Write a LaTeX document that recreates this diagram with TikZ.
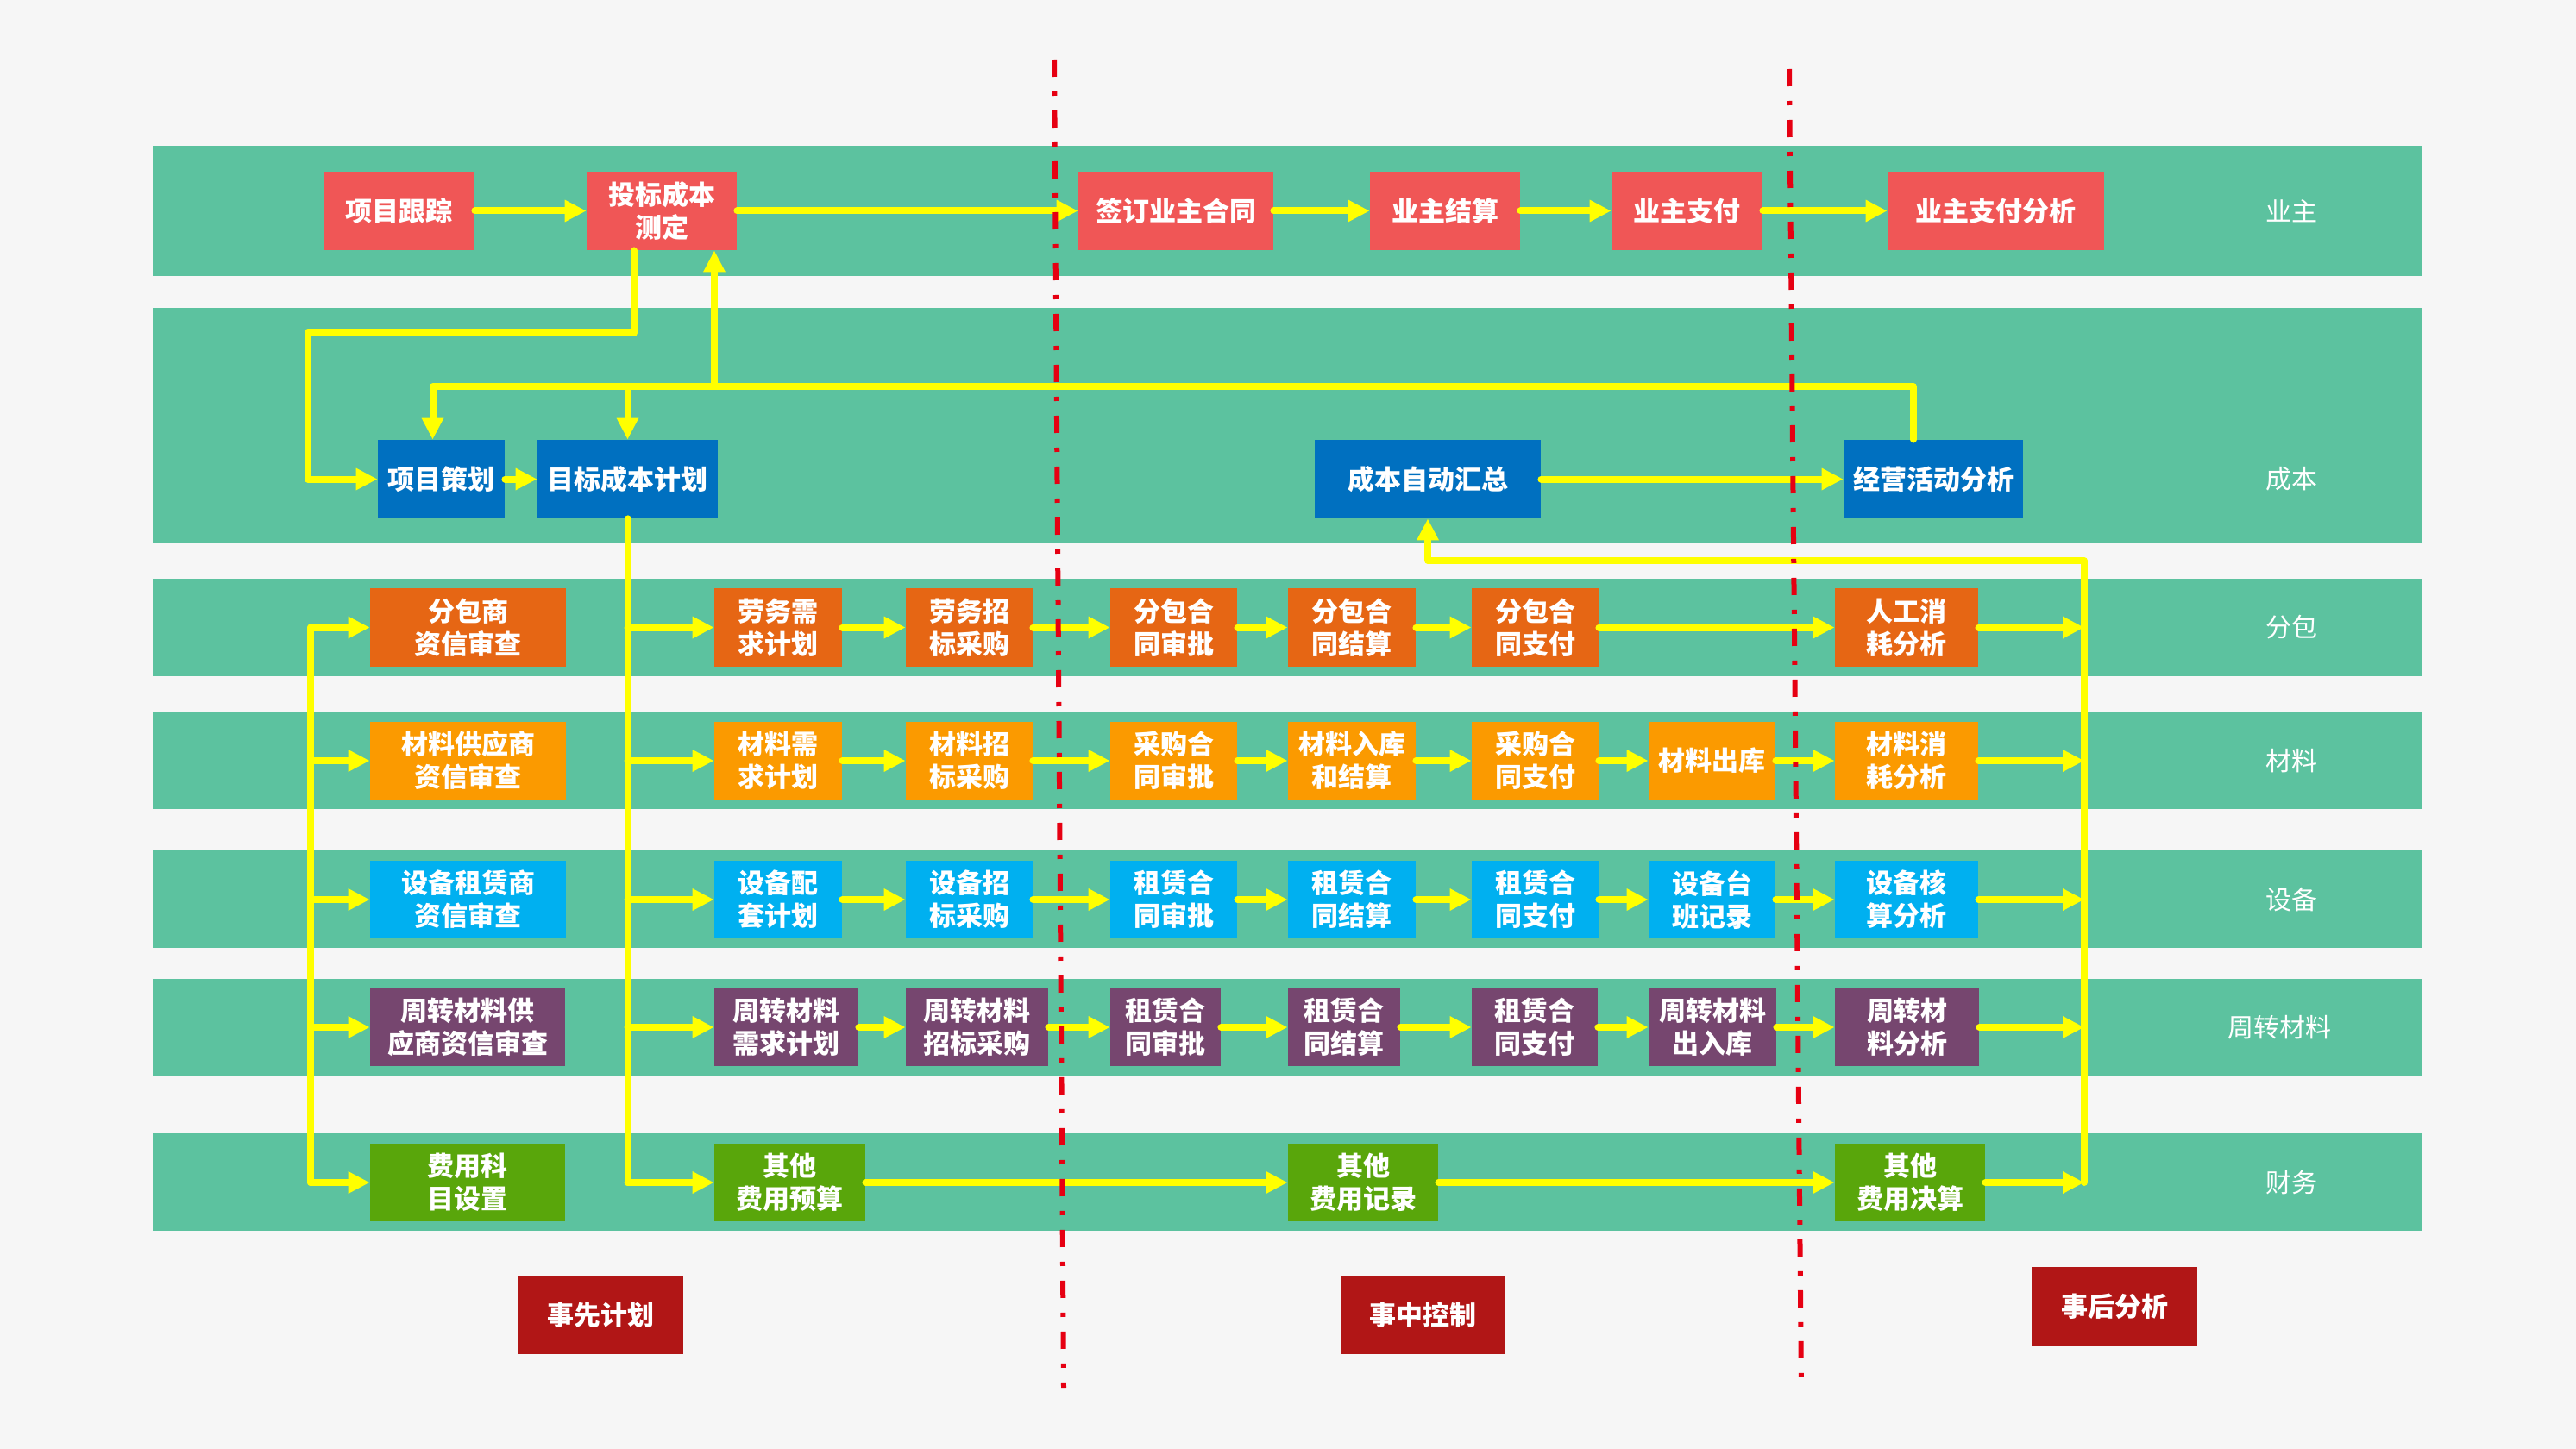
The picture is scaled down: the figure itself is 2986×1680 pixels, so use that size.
\documentclass[tikz,border=0pt]{standalone}
\usepackage{fontspec}
\newfontfamily\cjk{Noto Sans CJK SC}
\usetikzlibrary{arrows.meta}
\definecolor{bgc}{HTML}{F6F6F6}
\definecolor{lanec}{HTML}{5CC29F}
\definecolor{colYZ}{HTML}{F05656}
\definecolor{colCB}{HTML}{0070C0}
\definecolor{colFB}{HTML}{E66614}
\definecolor{colCL}{HTML}{FB9A00}
\definecolor{colSB}{HTML}{00B0F0}
\definecolor{colZZ}{HTML}{76466F}
\definecolor{colCW}{HTML}{59A60B}
\definecolor{colSJ}{HTML}{B11616}
\definecolor{colArr}{HTML}{FFFF00}
\definecolor{colDash}{HTML}{E60012}
\newcommand\mkbox[7]{\node[box,fill=#6,minimum width={(#4-#2)*0.5pt},minimum height={(#5-#3)*0.5pt}] (#1) at ({(#2+#4)/2},{(#3+#5)/2}) {#7};}
\begin{document}
\begin{tikzpicture}[x=0.5pt,y=-0.5pt,
  box/.style={text=white,font=\cjk\bfseries\fontsize{15.5pt}{19pt}\selectfont,align=center,inner sep=0pt},
  lbl/.style={text=white,font=\cjk\fontsize{15pt}{18pt}\selectfont,inner sep=0pt},
  ln/.style={draw=colArr,line width=4pt,line cap=round,line join=round},
  ar/.style={ln,-{Triangle[length=12.5pt,width=12pt]}},
  divider/.style={draw=colDash,line width=3pt,dash pattern=on 10pt off 8.5pt on 2.5pt off 8.5pt}]
\useasboundingbox (0,0) rectangle (2986,1680);
\fill[bgc] (0,0) rectangle (2986,1680);
% lanes
\fill[lanec] (177,169) rectangle (2808,320);
\fill[lanec] (177,357) rectangle (2808,630);
\fill[lanec] (177,671) rectangle (2808,784);
\fill[lanec] (177,826) rectangle (2808,938);
\fill[lanec] (177,986) rectangle (2808,1099);
\fill[lanec] (177,1135) rectangle (2808,1247);
\fill[lanec] (177,1314) rectangle (2808,1427);
% lane labels
\node[lbl] (L1) at (2656,245) {业主};
\node[lbl] (L2) at (2656,555) {成本};
\node[lbl] (L3) at (2656,727) {分包};
\node[lbl] (L4) at (2656,882) {材料};
\node[lbl] (L5) at (2656,1043) {设备};
\node[lbl] (L6) at (2642,1191) {周转材料};
\node[lbl] (L7) at (2656,1371) {财务};
% row 1
\mkbox{xmgz}{375}{199}{550}{290}{colYZ}{项目跟踪}
\mkbox{tb}{680}{199}{854}{290}{colYZ}{投标成本\\测定}
\mkbox{qd}{1250}{199}{1476}{290}{colYZ}{签订业主合同}
\mkbox{yzjs}{1588}{199}{1762}{290}{colYZ}{业主结算}
\mkbox{yzzf}{1868}{199}{2043}{290}{colYZ}{业主支付}
\mkbox{yzfx}{2188}{199}{2439}{290}{colYZ}{业主支付分析}
% row 2
\mkbox{xmch}{438}{510}{585}{601}{colCB}{项目策划}
\mkbox{mbcb}{623}{510}{832}{601}{colCB}{目标成本计划}
\mkbox{hz}{1524}{510}{1786}{601}{colCB}{成本自动汇总}
\mkbox{jyfx}{2137}{510}{2345}{601}{colCB}{经营活动分析}
% row 3
\mkbox{r3a}{429}{682}{656}{773}{colFB}{分包商\\资信审查}
\mkbox{r3b}{828}{682}{976}{773}{colFB}{劳务需\\求计划}
\mkbox{r3c}{1050}{682}{1197}{773}{colFB}{劳务招\\标采购}
\mkbox{r3d}{1287}{682}{1434}{773}{colFB}{分包合\\同审批}
\mkbox{r3e}{1493}{682}{1641}{773}{colFB}{分包合\\同结算}
\mkbox{r3f}{1706}{682}{1853}{773}{colFB}{分包合\\同支付}
\mkbox{r3h}{2127}{682}{2293}{773}{colFB}{人工消\\耗分析}
% row 4
\mkbox{r4a}{429}{837}{656}{927}{colCL}{材料供应商\\资信审查}
\mkbox{r4b}{828}{837}{976}{927}{colCL}{材料需\\求计划}
\mkbox{r4c}{1050}{837}{1197}{927}{colCL}{材料招\\标采购}
\mkbox{r4d}{1287}{837}{1434}{927}{colCL}{采购合\\同审批}
\mkbox{r4e}{1493}{837}{1641}{927}{colCL}{材料入库\\和结算}
\mkbox{r4f}{1706}{837}{1853}{927}{colCL}{采购合\\同支付}
\mkbox{r4g}{1911}{837}{2058}{927}{colCL}{材料出库}
\mkbox{r4h}{2127}{837}{2293}{927}{colCL}{材料消\\耗分析}
% row 5
\mkbox{r5a}{429}{998}{656}{1088}{colSB}{设备租赁商\\资信审查}
\mkbox{r5b}{828}{998}{976}{1088}{colSB}{设备配\\套计划}
\mkbox{r5c}{1050}{998}{1197}{1088}{colSB}{设备招\\标采购}
\mkbox{r5d}{1287}{998}{1434}{1088}{colSB}{租赁合\\同审批}
\mkbox{r5e}{1493}{998}{1641}{1088}{colSB}{租赁合\\同结算}
\mkbox{r5f}{1706}{998}{1853}{1088}{colSB}{租赁合\\同支付}
\mkbox{r5g}{1911}{998}{2058}{1088}{colSB}{设备台\\班记录}
\mkbox{r5h}{2127}{998}{2293}{1088}{colSB}{设备核\\算分析}
% row 6
\mkbox{r6a}{429}{1146}{655}{1236}{colZZ}{周转材料供\\应商资信审查}
\mkbox{r6b}{828}{1146}{995}{1236}{colZZ}{周转材料\\需求计划}
\mkbox{r6c}{1050}{1146}{1215}{1236}{colZZ}{周转材料\\招标采购}
\mkbox{r6d}{1287}{1146}{1415}{1236}{colZZ}{租赁合\\同审批}
\mkbox{r6e}{1493}{1146}{1623}{1236}{colZZ}{租赁合\\同结算}
\mkbox{r6f}{1706}{1146}{1852}{1236}{colZZ}{租赁合\\同支付}
\mkbox{r6g}{1911}{1146}{2059}{1236}{colZZ}{周转材料\\出入库}
\mkbox{r6h}{2127}{1146}{2294}{1236}{colZZ}{周转材\\料分析}
% row 7
\mkbox{r7a}{429}{1326}{655}{1416}{colCW}{费用科\\目设置}
\mkbox{r7b}{828}{1326}{1003}{1416}{colCW}{其他\\费用预算}
\mkbox{r7c}{1493}{1326}{1667}{1416}{colCW}{其他\\费用记录}
\mkbox{r7d}{2127}{1326}{2301}{1416}{colCW}{其他\\费用决算}
% phase boxes
\mkbox{sx}{601}{1479}{792}{1570}{colSJ}{事先计划}
\mkbox{sz}{1554}{1479}{1745}{1570}{colSJ}{事中控制}
\mkbox{sh}{2355}{1469}{2547}{1560}{colSJ}{事后分析}
% helper coordinates
\coordinate (tbA) at ([xshift=-16pt]tb.south);
\coordinate (tbB) at ([xshift=30.5pt]tb.south);
\coordinate (k1) at (357,386);
\coordinate (fb) at (0,448);
\coordinate (jyT) at ([xshift=-11.5pt]jyfx.north);
\coordinate (xmT) at ([xshift=-5pt]xmch.north);
\coordinate (lx) at (360,0);
\coordinate (cT) at (2416,650);
% chains
\foreach \a/\b in {xmgz/tb,tb/qd,qd/yzjs,yzjs/yzzf,yzzf/yzfx,xmch/mbcb,hz/jyfx,
  r3b/r3c,r3c/r3d,r3d/r3e,r3e/r3f,r3f/r3h,
  r4b/r4c,r4c/r4d,r4d/r4e,r4e/r4f,r4f/r4g,r4g/r4h,
  r5b/r5c,r5c/r5d,r5d/r5e,r5e/r5f,r5f/r5g,r5g/r5h,
  r6b/r6c,r6c/r6d,r6d/r6e,r6e/r6f,r6f/r6g,r6g/r6h,
  r7b/r7c,r7c/r7d}
  \draw[ar] (\a.east) -- (\b.west);
% bid cost -> project planning
\draw[ar] (tbA) |- (k1) |- (xmch.west);
% feedback from analysis
\draw[ar] (jyT) -- (jyT |- fb) -- (xmT |- fb) -- (xmT);
\draw[ar] (mbcb.north |- fb) -- (mbcb.north);
\draw[ar] (tbB |- fb) -- (tbB);
% left bracket
\draw[ln] (r3a.west -| lx) -- (r7a.west -| lx);
\foreach \n in {r3a,r4a,r5a,r6a,r7a} \draw[ar] (\n.west -| lx) -- (\n.west);
% middle distribution
\draw[ln] (mbcb.south) -- (mbcb.south |- r7b.west);
\foreach \n in {r3b,r4b,r5b,r6b,r7b} \draw[ar] (mbcb.south |- \n.west) -- (\n.west);
% right collector
\foreach \n in {r3h,r4h,r5h,r6h,r7d} \draw[ar] (\n.east) -- (\n.east -| cT);
\draw[ar] (cT |- r7d.east) -- (cT) -| (hz.south);
% phase dividers
\draw[divider] (1222,69) -- (1233,1609);
\draw[divider] (2074,80) -- (2088,1609);
\end{tikzpicture}
\end{document}
